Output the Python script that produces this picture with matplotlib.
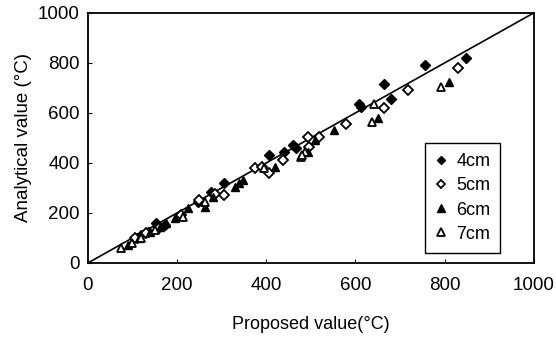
import numpy as np
import matplotlib.pyplot as plt

plt.rcParams['font.family'] = ['Liberation Sans', 'DejaVu Sans']

# proposed (x) vs analytical (y)
x_4cm = [847, 757, 664, 679, 609, 612, 461, 467, 441, 407, 306, 277, 247, 172, 153, 135, 120, 110]
y_4cm = [819, 792, 715, 656, 635, 625, 472, 459, 445, 432, 319, 285, 245, 152, 159, 125, 112, 100]

x_5cm = [830, 717, 665, 579, 493, 519, 497, 437, 407, 374, 306, 250, 209, 105, 130, 160, 285, 390]
y_5cm = [779, 692, 619, 555, 505, 505, 465, 412, 359, 379, 272, 252, 192, 99, 118, 140, 275, 385]

x_6cm = [809, 650, 551, 510, 493, 419, 348, 329, 262, 224, 176, 161, 90, 115, 140, 195, 280, 340]
y_6cm = [723, 579, 532, 492, 445, 385, 332, 305, 225, 219, 159, 145, 72, 100, 125, 180, 265, 320]

x_7cm = [791, 641, 638, 478, 486, 396, 262, 75, 120, 213, 100, 150, 480]
y_7cm = [705, 635, 563, 425, 445, 379, 245, 59, 99, 185, 80, 130, 430]

fig = plt.figure(figsize=(5.56, 3.4), dpi=100)
ax = fig.add_axes([0.158, 0.2265, 0.802, 0.7355])

ax.plot([0, 1000], [0, 1000], color='black', lw=1.2, zorder=1)

ms = 6
ax.plot(x_4cm, y_4cm, 'D', ms=ms * 0.85, mfc='black', mec='black', ls='none', label='4cm')
ax.plot(x_5cm, y_5cm, 'D', ms=ms * 0.85, mfc='white', mec='black', mew=1.3, ls='none', label='5cm')
ax.plot(x_6cm, y_6cm, '^', ms=ms, mfc='black', mec='black', ls='none', label='6cm')
ax.plot(x_7cm, y_7cm, '^', ms=ms, mfc='white', mec='black', mew=1.3, ls='none', label='7cm')

ax.set_xlim(0, 1000)
ax.set_ylim(0, 1000)
ax.set_xticks(np.arange(0, 1001, 200))
ax.set_yticks(np.arange(0, 1001, 200))
ax.tick_params(direction='in', length=3, labelsize=13.5)
ax.tick_params(axis='x', pad=10)
ax.tick_params(axis='y', pad=6)
for s in ax.spines.values():
    s.set_linewidth(1.3)

ax.set_xlabel('Proposed value(\u00b0C)', fontsize=13, labelpad=16)
ax.set_ylabel('Analytical value (\u00b0C)', fontsize=13.5, labelpad=4)

leg = ax.legend(loc='lower right', bbox_to_anchor=(0.945, 0.005), fontsize=13,
                fancybox=False, edgecolor='black', framealpha=1, markerscale=0.85,
                handlelength=0.7, handletextpad=0.5, borderpad=0.55, labelspacing=0.4)
leg.get_frame().set_linewidth(1.0)

fig.savefig('out.png', dpi=100)
